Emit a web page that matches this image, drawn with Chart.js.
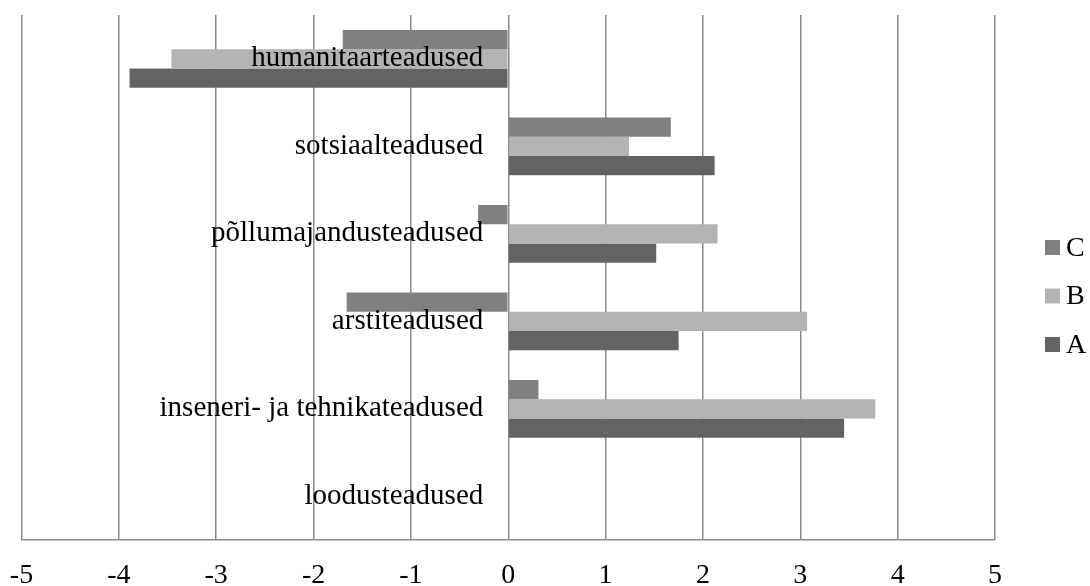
<!DOCTYPE html>
<html>
<head>
<meta charset="utf-8">
<script src="https://cdn.jsdelivr.net/npm/chart.js@4.4.1/dist/chart.umd.min.js"></script>
<style>
  html, body { margin: 0; padding: 0; background: #fff; }
  #wrap { width: 1090px; height: 586px; }
</style>
</head>
<body>
<div id="wrap"><canvas id="chart"></canvas></div>
<script>
// categories, top to bottom
const categories = ['humanitaarteadused', 'sotsiaalteadused', 'põllumajandusteadused', 'arstiteadused', 'inseneri- ja tehnikateadused', 'loodusteadused'];
const seriesC = [-1.70, 1.67, -0.31, -1.66, 0.31, 0];
const seriesB = [-3.46, 1.24, 2.15, 3.07, 3.77, 0];
const seriesA = [-3.89, 2.12, 1.52, 1.75, 3.45, 0];
const xTicks = [-5, -4, -3, -2, -1, 0, 1, 2, 3, 4, 5];

const serif = '"Liberation Serif", "Times New Roman", serif';
const gridGray = '#8a8a8a';

// category labels sit just left of the zero line, drawn over the bars
const zeroLabels = {
    id: 'zeroLabels',
    afterDatasetsDraw(chart) {
        const ctx = chart.ctx;
        const xs = chart.scales.x;
        const ys = chart.scales.y;
        const x0 = xs.getPixelForValue(0);
        ctx.save();
        ctx.font = '29px ' + serif;
        ctx.fillStyle = '#000';
        ctx.textAlign = 'right';
        ctx.textBaseline = 'middle';
        categories.forEach(function (c, i) {
            ctx.fillText(c, x0 - 25, ys.getPixelForValue(i));
        });
        ctx.restore();
    }
};

// legend on the right, excel style: small square + letter
const sideLegend = {
    id: 'sideLegend',
    afterDraw(chart) {
        const ctx = chart.ctx;
        const sets = chart.data.datasets;
        const step = 48.5;
        const midY = chart.height / 2 + 3;
        const top = midY - step * (sets.length - 1) / 2;
        const boxX = chart.chartArea.right + 50;
        ctx.save();
        ctx.font = '28px ' + serif;
        ctx.textBaseline = 'middle';
        ctx.textAlign = 'left';
        sets.forEach(function (ds, i) {
            const y = top + i * step;
            ctx.fillStyle = ds.backgroundColor;
            ctx.fillRect(boxX, y - 7.5, 15, 15);
            ctx.fillStyle = '#000';
            ctx.fillText(ds.label, boxX + 21, y + 1);
        });
        ctx.restore();
    }
};

new Chart(document.getElementById('chart'), {
    type: 'bar',
    data: {
        labels: categories,
        datasets: [
            { label: 'C', data: seriesC, backgroundColor: '#808080' },
            { label: 'B', data: seriesB, backgroundColor: '#b3b3b3' },
            { label: 'A', data: seriesA, backgroundColor: '#636363' }
        ]
    },
    options: {
        indexAxis: 'y',
        responsive: true,
        maintainAspectRatio: false,
        animation: false,
        layout: { padding: { top: 15, left: 21.5, right: 95, bottom: 0 } },
        datasets: {
            bar: { categoryPercentage: 0.66, barPercentage: 1, borderWidth: 0 }
        },
        scales: {
            x: {
                min: -5,
                max: 5,
                afterBuildTicks: function (axis) {
                    axis.ticks = xTicks.map(v => ({ value: v }));
                },
                afterFit: function (axis) {
                    axis.paddingLeft = 0;
                    axis.paddingRight = 0;
                    axis.height = 46;
                },
                grid: { color: gridGray, lineWidth: 1.5, drawTicks: false },
                border: { display: true, color: gridGray, width: 1.5 },
                ticks: {
                    color: '#000',
                    padding: 22,
                    maxRotation: 0,
                    font: { family: serif, size: 28, lineHeight: 1 }
                }
            },
            y: {
                display: false
            }
        },
        plugins: {
            legend: { display: false },
            tooltip: { enabled: false }
        }
    },
    plugins: [zeroLabels, sideLegend]
});
</script>
</body>
</html>
